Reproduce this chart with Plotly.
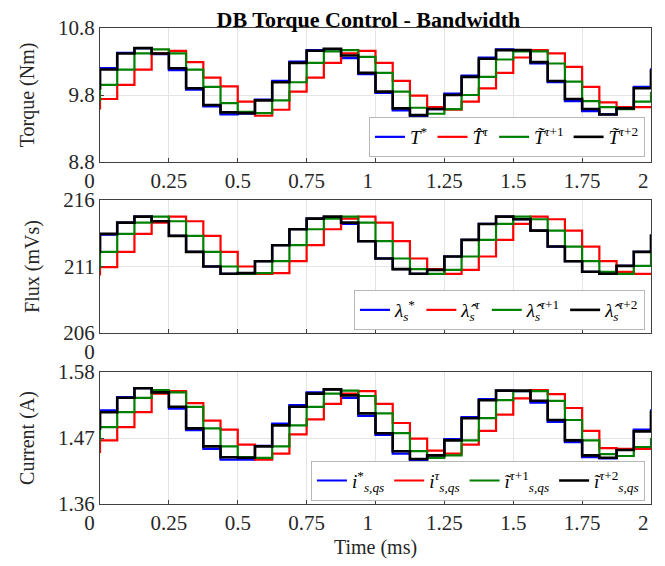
import plotly.graph_objects as go
from plotly.subplots import make_subplots

# ---------------- data ----------------
Ts = 0.0625  # sample period (ms)
time_ms = [round(-Ts + i * Ts, 4) for i in range(34)]  # one sample before t=0 up to 2.0 ms

x_tick_vals = [0, 0.25, 0.5, 0.75, 1, 1.25, 1.5, 1.75, 2]
x_tick_text = ["0\u00a0\u00a0\u00a0\u00a0", "0.25", "0.5", "0.75", "1\u00a0\u00a0\u00a0",
               "1.25", "1.5", "1.75", "2\u00a0\u00a0\u00a0"]

# Torque (Nm)
torque_ref = [9.90, 10.20, 10.43, 10.50, 10.41, 10.17, 9.88, 9.63, 9.51, 9.52, 9.73, 10.01, 10.30, 10.47,
              10.48, 10.35, 10.11, 9.83, 9.57, 9.48, 9.59, 9.82, 10.09, 10.36, 10.48, 10.46, 10.27, 9.99,
              9.71, 9.56, 9.51, 9.61, 9.92, 10.20]
torque_tau = [9.60, 9.74, 9.95, 10.18, 10.42, 10.46, 10.29, 10.06, 9.93, 9.70, 9.49, 9.58, 9.85, 10.06,
              10.28, 10.42, 10.46, 10.28, 10.01, 9.79, 9.62, 9.58, 9.70, 9.90, 10.13, 10.36, 10.47, 10.42,
              10.22, 9.92, 9.69, 9.62, 9.62, 9.62]
torque_tau1 = [9.72, 9.95, 10.18, 10.42, 10.48, 10.42, 10.18, 9.92, 9.68, 9.55, 9.53, 9.72, 9.99, 10.28,
               10.45, 10.47, 10.37, 10.13, 9.85, 9.61, 9.52, 9.59, 9.80, 10.07, 10.33, 10.45, 10.45, 10.27,
               10.00, 9.71, 9.62, 9.59, 9.70, 9.85]
torque_tau2 = [9.90, 10.18, 10.42, 10.50, 10.42, 10.20, 9.90, 9.65, 9.54, 9.53, 9.72, 9.99, 10.28, 10.46,
               10.49, 10.39, 10.13, 9.85, 9.60, 9.50, 9.59, 9.80, 10.07, 10.34, 10.47, 10.47, 10.29, 10.01,
               9.74, 9.59, 9.51, 9.60, 9.90, 10.18]

# Flux (mVs)
flux_ref = [212.1, 213.4, 214.3, 214.75, 214.4, 213.3, 212.1, 211.0, 210.45, 210.5, 211.4, 212.6, 213.8,
            214.6, 214.7, 214.2, 212.9, 211.6, 210.8, 210.45, 210.75, 211.75, 213.0, 214.2, 214.75, 214.55,
            213.7, 212.5, 211.4, 210.6, 210.45, 211.05, 212.1, 213.4]
flux_tau = [210.4, 210.95, 212.1, 213.45, 214.3, 214.75, 214.4, 213.3, 212.1, 211.0, 210.45, 210.5, 211.4,
            212.6, 213.8, 214.6, 214.75, 214.3, 212.9, 211.6, 210.8, 210.45, 210.75, 211.75, 213.0, 214.2,
            214.75, 214.55, 213.7, 212.5, 211.4, 210.6, 210.45, 210.45]
flux_tau1 = [210.95, 212.1, 213.45, 214.3, 214.75, 214.4, 213.3, 212.1, 211.0, 210.45, 210.5, 211.4, 212.6,
             213.8, 214.6, 214.75, 214.3, 212.9, 211.6, 210.8, 210.45, 210.75, 211.75, 213.0, 214.2, 214.75,
             214.55, 213.7, 212.5, 211.4, 210.6, 210.45, 211.05, 212.1]
flux_tau2 = [212.1, 213.45, 214.3, 214.75, 214.4, 213.3, 212.1, 211.0, 210.45, 210.5, 211.4, 212.6, 213.8,
             214.6, 214.75, 214.3, 212.9, 211.6, 210.8, 210.45, 210.75, 211.75, 213.0, 214.2, 214.75, 214.55,
             213.7, 212.5, 211.4, 210.6, 210.45, 211.05, 212.1, 213.4]

# Current (A)
current_ref = [1.486, 1.516, 1.538, 1.553, 1.545, 1.519, 1.483, 1.452, 1.434, 1.434, 1.457, 1.494, 1.525,
               1.546, 1.551, 1.537, 1.507, 1.475, 1.444, 1.433, 1.441, 1.468, 1.505, 1.535, 1.549, 1.548,
               1.529, 1.497, 1.463, 1.438, 1.436, 1.451, 1.484, 1.518]
current_tau = [1.447, 1.466, 1.488, 1.513, 1.544, 1.548, 1.528, 1.499, 1.484, 1.459, 1.434, 1.444, 1.476,
               1.501, 1.527, 1.544, 1.548, 1.527, 1.495, 1.469, 1.449, 1.444, 1.459, 1.482, 1.509, 1.536,
               1.550, 1.543, 1.520, 1.482, 1.453, 1.452, 1.452, 1.452]
current_tau1 = [1.466, 1.488, 1.513, 1.537, 1.550, 1.546, 1.522, 1.486, 1.456, 1.438, 1.437, 1.456, 1.491,
                1.522, 1.544, 1.549, 1.540, 1.511, 1.478, 1.448, 1.437, 1.441, 1.466, 1.503, 1.533, 1.548,
                1.548, 1.532, 1.500, 1.466, 1.443, 1.440, 1.455, 1.470]
current_tau2 = [1.486, 1.513, 1.537, 1.553, 1.546, 1.522, 1.486, 1.456, 1.438, 1.437, 1.456, 1.491, 1.522,
                1.544, 1.551, 1.541, 1.511, 1.478, 1.448, 1.435, 1.441, 1.466, 1.503, 1.533, 1.549, 1.549,
                1.532, 1.500, 1.466, 1.441, 1.437, 1.450, 1.481, 1.515]

panels = [
    dict(name="Torque (Nm)", yr=[8.8, 10.8], yt=[8.8, 9.8, 10.8], ytt=["8.8", "9.8", "10.8"],
         series=[torque_ref, torque_tau, torque_tau1, torque_tau2],
         labels=["<i>T</i><sup>*</sup>", "<i>T\u0302</i><sup><i>τ</i></sup>",
                 "<i>T\u0303</i><sup><i>τ</i>+1</sup>", "<i>T\u0303</i><sup><i>τ</i>+2</sup>"]),
    dict(name="Flux (mVs)", yr=[206, 216], yt=[206, 211, 216], ytt=["206", "211", "216"],
         series=[flux_ref, flux_tau, flux_tau1, flux_tau2],
         labels=["<i>λ</i><sub><i>s</i></sub><sup>*</sup>", "<i>λ\u0302</i><sub><i>s</i></sub><sup><i>τ</i></sup>",
                 "<i>λ\u0302</i><sub><i>s</i></sub><sup><i>τ</i>+1</sup>",
                 "<i>λ\u0302</i><sub><i>s</i></sub><sup><i>τ</i>+2</sup>"]),
    dict(name="Current (A)", yr=[1.36, 1.58], yt=[1.36, 1.47, 1.58], ytt=["1.36", "1.47", "1.58"],
         series=[current_ref, current_tau, current_tau1, current_tau2],
         labels=["<i>i</i><sup>*</sup><sub><i>s,qs</i></sub>", "<i>i</i><sup><i>τ</i></sup><sub><i>s,qs</i></sub>",
                 "<i>ĩ</i><sup><i>τ</i>+1</sup><sub><i>s,qs</i></sub>",
                 "<i>ĩ</i><sup><i>τ</i>+2</sup><sub><i>s,qs</i></sub>"]),
]

colors = ["#0000ff", "#ff0000", "#008000", "#000000"]
widths = [2.2, 2.2, 2.2, 2.6]

FONT = "Liberation Serif, Times New Roman, serif"

fig = make_subplots(rows=3, cols=1)

legend_names = ["legend", "legend2", "legend3"]
for r, p in enumerate(panels, start=1):
    for s, lab, c, w in zip(p["series"], p["labels"], colors, widths):
        fig.add_trace(go.Scatter(x=time_ms, y=s, mode="lines", line=dict(color=c, width=w, shape="hv"),
                                 name=lab, legend=legend_names[r - 1], hoverinfo="skip"), row=r, col=1)

domains = [[0.7185, 1.0], [0.3592, 0.6387], [0.0, 0.2773]]
axis_common = dict(showline=True, mirror=True, linecolor="#404040", linewidth=1, ticks="inside",
                   ticklen=4, tickcolor="#404040", showgrid=True, gridcolor="#e4e4e4", gridwidth=1,
                   zeroline=False, tickfont=dict(family=FONT, size=21, color="#262626"))

for r, p in enumerate(panels, start=1):
    if r == 2:
        xt = [x_tick_text[0]] + [""] * 8
    else:
        xt = x_tick_text
    fig.update_xaxes(range=[0, 2], tickvals=x_tick_vals, ticktext=xt, row=r, col=1, **axis_common)
    fig.update_yaxes(range=p["yr"], tickvals=p["yt"], ticktext=p["ytt"], domain=domains[r - 1],
                     title=dict(text=p["name"], font=dict(family=FONT, size=20, color="#262626"), standoff=18),
                     row=r, col=1, **axis_common)

fig.update_xaxes(title=dict(text="Time (ms)", font=dict(family=FONT, size=20, color="#262626"), standoff=5),
                 row=3, col=1)

leg_common = dict(orientation="h", xref="paper", yref="paper", x=0.989, xanchor="right", yanchor="bottom",
                  bgcolor="white", bordercolor="#b8b8b8", borderwidth=1,
                  font=dict(family=FONT, size=19, color="#000000"), itemwidth=30, tracegroupgap=0)

fig.update_layout(
    width=665, height=566,
    margin=dict(l=92, r=22, t=20, b=70, autoexpand=False),
    paper_bgcolor="white", plot_bgcolor="white",
    title=dict(text="<b>DB Torque Control - Bandwidth</b>", x=0.542, xanchor="center", y=1 - 4 / 566,
               yanchor="top", pad=dict(t=0, b=0), font=dict(family=FONT, size=22, color="#000000")),
    legend=dict(y=0.729, **leg_common),
    legend2=dict(y=0.3655, **leg_common),
    legend3=dict(y=0.007, **leg_common),
    showlegend=True,
)

fig.write_html("out.html")
